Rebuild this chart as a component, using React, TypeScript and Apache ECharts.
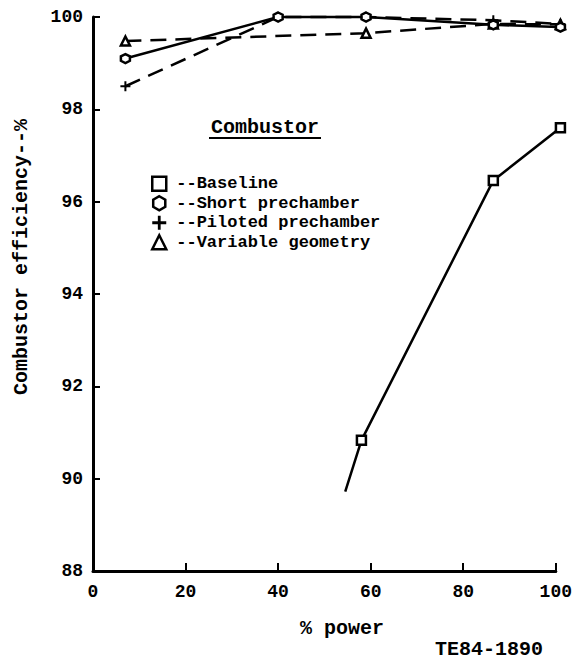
import React, { useEffect, useRef } from "react";
import * as echarts from "echarts";

const xTicks = [0, 20, 40, 60, 80, 100];
const yTicks = [88, 90, 92, 94, 96, 98, 100];

const baselineX = [54.5, 58, 86.5, 101];
const baselineY = [89.72, 90.83, 96.46, 97.6];

const shortX = [7, 40, 59, 86.5, 101];
const shortY = [99.1, 100, 100, 99.83, 99.78];

const pilotedX = [7, 40, 59, 86.5, 101];
const pilotedY = [98.5, 100, 100, 99.93, 99.85];

const variableX = [7, 59, 86.5, 101];
const variableY = [99.48, 99.65, 99.85, 99.84];

const seriesNames = ["Baseline", "Short prechamber", "Piloted prechamber", "Variable geometry"];

const HEX = "path://M5,0 L10,2.9 L10,8.7 L5,11.6 L0,8.7 L0,2.9 Z";
const PLUS = "path://M4,0 L6,0 L6,4 L10,4 L10,6 L6,6 L6,10 L4,10 L4,6 L0,6 L0,4 L4,4 Z";
const SQUARE = "rect";
const TRI = "triangle";

const FONT = "'Liberation Mono', 'DejaVu Sans Mono', monospace";

function pairs(xs: number[], ys: number[]) {
  return xs.map((x, i) => [x, ys[i]]);
}

export default function App() {
  const ref = useRef<HTMLDivElement>(null);
  useEffect(() => {
    if (!ref.current) return;
    const chart = echarts.init(ref.current, undefined, { renderer: "svg" });
    const lineBase = { color: "#000", width: 2.5 };
    const itemBase = { color: "#fff", borderColor: "#000", borderWidth: 2.5 };
    const baselineData: any[] = pairs(baselineX, baselineY).map((p, i) =>
      i === 0 ? { value: p, symbol: "none" } : { value: p }
    );
    chart.setOption({
      animation: false,
      backgroundColor: "#fff",
      grid: { left: 93, right: 17, top: 17, bottom: 90, containLabel: false },
      xAxis: {
        type: "value",
        min: 0,
        max: 100,
        interval: 20,
        axisLine: { show: true, lineStyle: { color: "#000", width: 3 } },
        axisTick: { show: true, inside: true, length: 8, lineStyle: { color: "#000", width: 2 } },
        axisLabel: {
          color: "#000",
          fontFamily: FONT,
          fontSize: 18,
          fontWeight: "bold",
          margin: 12,
          formatter: (v: number) => (xTicks.includes(v) ? String(v) : ""),
        },
        splitLine: { show: false },
      },
      yAxis: {
        type: "value",
        min: 88,
        max: 100,
        interval: 2,
        axisLine: { show: true, lineStyle: { color: "#000", width: 3 } },
        axisTick: { show: true, inside: true, length: 7, lineStyle: { color: "#000", width: 2 } },
        axisLabel: {
          color: "#000",
          fontFamily: FONT,
          fontSize: 18,
          fontWeight: "bold",
          margin: 10,
          formatter: (v: number) => (yTicks.includes(v) ? String(v) : ""),
        },
        splitLine: { show: false },
      },
      legend: {
        orient: "vertical",
        left: 146,
        top: 169,
        itemGap: 0,
        itemWidth: 14,
        itemHeight: 14,
        selectedMode: false,
        formatter: (n: string) => "--" + n,
        textStyle: {
          color: "#000",
          fontFamily: FONT,
          fontSize: 17,
          fontWeight: "bold",
          lineHeight: 19.5,
          padding: [0, 0, 0, 5],
        },
        data: [
          { name: seriesNames[0], icon: SQUARE, itemStyle: { color: "#fff", borderColor: "#000", borderWidth: 2.5 } },
          { name: seriesNames[1], icon: HEX, itemStyle: { color: "#fff", borderColor: "#000", borderWidth: 2.5 } },
          { name: seriesNames[2], icon: PLUS, itemStyle: { color: "#000", borderColor: "#000", borderWidth: 0 } },
          { name: seriesNames[3], icon: TRI, itemStyle: { color: "#fff", borderColor: "#000", borderWidth: 2.5 } },
        ],
      },
      series: [
        {
          name: seriesNames[3],
          type: "line",
          data: pairs(variableX, variableY),
          symbol: TRI,
          symbolSize: 9,
          clip: false,
          lineStyle: { ...lineBase, type: [16, 9] },
          itemStyle: itemBase,
          z: 2,
        },
        {
          name: seriesNames[2],
          type: "line",
          data: pairs(pilotedX, pilotedY),
          symbol: PLUS,
          symbolSize: 10,
          clip: false,
          lineStyle: { ...lineBase, type: [16, 9] },
          itemStyle: { color: "#000", borderWidth: 0 },
          z: 3,
        },
        {
          name: seriesNames[1],
          type: "line",
          data: pairs(shortX, shortY),
          symbol: HEX,
          symbolSize: 9,
          clip: false,
          lineStyle: lineBase,
          itemStyle: itemBase,
          z: 4,
        },
        {
          name: seriesNames[0],
          type: "line",
          data: baselineData,
          symbol: SQUARE,
          symbolSize: 9,
          clip: false,
          lineStyle: lineBase,
          itemStyle: itemBase,
          z: 5,
        },
      ],
      graphic: [
        {
          type: "text",
          x: 265,
          y: 127,
          style: { text: "Combustor", fill: "#000", font: "bold 20px " + FONT, align: "center", verticalAlign: "middle" },
        },
        {
          type: "line",
          shape: { x1: 209, y1: 138, x2: 321, y2: 138 },
          style: { stroke: "#000", lineWidth: 2 },
        },
        {
          type: "text",
          x: 21,
          y: 257,
          rotation: Math.PI / 2,
          style: {
            text: "Combustor efficiency--%",
            fill: "#000",
            font: "bold 20px " + FONT,
            align: "center",
            verticalAlign: "middle",
          },
        },
        {
          type: "text",
          x: 342,
          y: 628,
          style: { text: "% power", fill: "#000", font: "bold 20px " + FONT, align: "center", verticalAlign: "middle" },
        },
        {
          type: "text",
          x: 489,
          y: 649,
          style: { text: "TE84-1890", fill: "#000", font: "bold 20px " + FONT, align: "center", verticalAlign: "middle" },
        },
      ],
    });
    return () => chart.dispose();
  }, []);
  return <div ref={ref} style={{ width: 575, height: 661, position: "absolute", left: 0, top: 0 }} />;
}
